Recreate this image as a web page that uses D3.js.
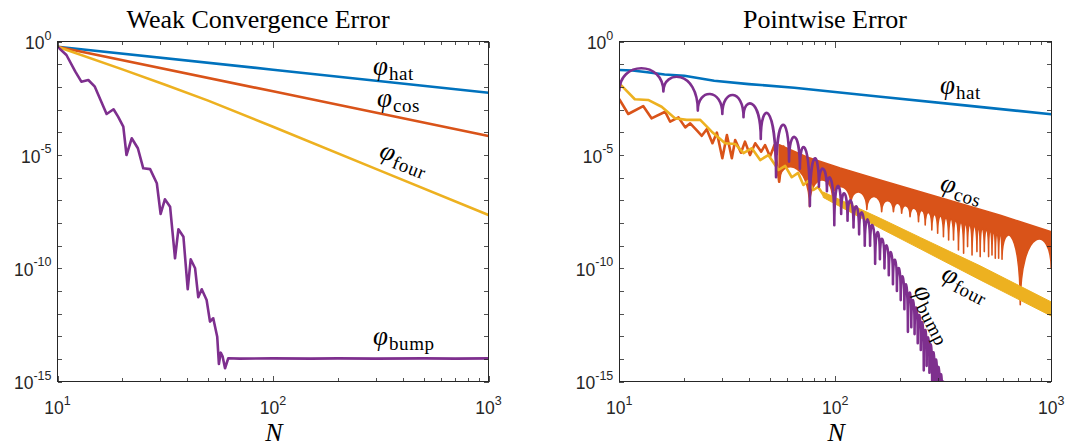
<!DOCTYPE html>
<html>
<head>
<meta charset="utf-8">
<script src="https://cdn.jsdelivr.net/npm/d3@7"></script>
<style>
  body { margin: 0; background: #fff; }
  svg { display: block; }
</style>
</head>
<body>
<svg id="chart" width="1066" height="446"></svg>
<script>
// All error values are stored as log10(error).

// ---- left panel: weak convergence error ----
var weakHatN = [10, 100, 1000];
var weakHatLog = [-0.22, -1.235, -2.25];
var weakCosN = [10, 100, 1000];
var weakCosLog = [-0.22, -2.19, -4.16];
var weakFourN = [10, 20, 31.6, 50, 100, 316, 1000];
var weakFourLog = [-0.22, -1.22, -1.9, -2.6, -3.75, -5.7, -7.645];
var weakBumpN = [10, 11.0, 12.1, 12.9, 13.9, 14.9, 16.9, 18.2, 19.1, 20.2,
  20.9, 22.1, 23.6, 25.0, 26.9, 28.9, 30.1, 31.5, 33.3, 35.1,
  36.4, 38.4, 40.2, 41.5, 43.5, 45.0, 46.7, 49.2, 51.0, 52.8,
  55.1, 56.1, 57.2, 58.4, 59.9, 62.0, 70, 100, 150, 200, 300, 500, 700, 1000];
var weakBumpLog = [-0.22, -0.587, -1.323, -1.764, -1.689, -1.985, -3.189, -2.982, -3.308, -3.749,
  -4.998, -4.261, -4.702, -5.585, -5.62, -6.246, -7.6, -6.952, -7.278, -9.554,
  -8.275, -8.602, -10.922, -9.598, -9.996, -11.275, -10.922, -11.394, -12.351, -12.201,
  -13.013, -14.217, -13.719, -13.895, -14.407, -13.966, -13.98, -13.97, -13.98, -13.97, -13.98, -13.97, -13.98, -13.97];

// ---- right panel: pointwise error ----
var ptHatN = [10, 11.5, 13.5, 16.2, 20, 27.5, 39.8, 64.6, 158, 398, 1000];
var ptHatLog = [-1.25, -1.27, -1.35, -1.45, -1.50, -1.72, -1.87, -2.03, -2.42, -2.81, -3.2];

// cos: wiggly start, then a dense band (top edge + spikes with arches between)
var ptCosN = [10, 11.0, 12.9, 14.1, 16.3, 17.2, 18.8, 20.2, 21.3, 22.8, 24.1, 25.4, 27.0, 28.3,
  30.0, 31.5, 33.2, 34.4, 36.6, 38.2, 40.3, 42.6, 45.4, 47.3, 49.9, 52.3, 55.0, 57.5];
var ptCosLog = [-2.54, -3.19, -2.84, -3.38, -3.09, -3.53, -3.34, -3.78, -3.6, -3.9, -4.15, -3.86, -4.48, -4.01,
  -5.14, -4.12, -5.14, -4.34, -4.9, -4.41, -5.0, -4.48, -4.85, -4.56, -5.07, -4.56, -6.18, -4.63];
var ptCosTopN = [55, 73.9, 105.4, 161.5, 247.5, 581, 1000];
var ptCosTopLog = [-4.55, -5.086, -5.571, -6.1, -6.62, -7.66, -8.38];
var ptCosSpikeN = [55, 76, 97, 118, 140, 164, 186, 203, 222, 243, 261, 280, 298, 317, 335,
  353, 372, 393, 410, 430, 453, 469, 490, 513, 532, 551, 571, 592, 719, 1000];
var ptCosSpikeLog = [-6.18, -7.28, -6.9, -7.2, -7.4, -7.5, -7.5, -7.57, -7.72, -7.94, -8.09, -8.31, -8.45, -8.6, -8.75,
  -8.75, -9.19, -9.33, -9.04, -9.41, -9.26, -9.48, -9.26, -9.48, -9.41, -9.55, -9.55, -9.6, -11.6, -10.0];
var ptCosArchLog = [-5.55, -6.1, -6.4, -6.63, -6.83, -7.01, -7.13, -7.24, -7.35, -7.45, -7.54, -7.62, -7.69, -7.77,
  -7.83, -7.89, -7.96, -8.02, -8.07, -8.13, -8.19, -8.23, -8.29, -8.34, -8.38, -8.43, -8.47, -8.6, -8.75];

// four: wiggly start, then a thick band
var ptFourN = [10, 11.8, 13.6, 15.7, 18.1, 20.5, 23.7, 26.8, 30.9, 34.4, 37.6, 41.1,
  44.9, 49.0, 54.6, 58.6, 62.9, 67.3, 71.2, 74.9, 79.3, 83.3, 88.2];
var ptFourLog = [-1.835, -2.54, -2.57, -2.87, -3.38, -3.45, -3.45, -3.97, -4.48, -4.51, -4.92, -4.70,
  -5.22, -5.0, -5.66, -5.48, -5.98, -5.79, -6.32, -6.14, -6.54, -6.41, -6.76];
var ptFourBandN = [87.9, 161.5, 247.5, 469, 1000];
var ptFourBandHiLog = [-6.63, -7.79, -8.635, -9.89, -11.48];
var ptFourBandLoLog = [-6.87, -8.23, -9.14, -10.51, -12.1];

// bump: arches between dips
var ptBumpDipN = [10, 16.0, 23.1, 30.0, 37.6, 45.2, 53.2, 61.1, 68.6, 76.3, 84, 91.5, 99, 106.5,
  114, 121.5, 129, 137, 145, 153, 161, 169, 177, 185, 193, 201, 209, 217, 225, 233, 241, 249,
  257, 265, 273, 281, 289, 297, 305, 313, 321, 329];
var ptBumpDipLog = [-2.2, -2.2, -3.04, -3.19, -3.33, -4.29, -5.98, -5.29, -5.6, -7.25, -6.4, -6.6, -8.1, -7.6,
  -7.9, -8.2, -8.5, -9.0, -9.0, -9.8, -9.6, -10.0, -10.3, -10.7, -11.0, -11.4, -11.8, -12.8, -12.6, -12.9,
  -13.3, -13.6, -14.5, -14.3, -14.6, -15.2, -15.5, -15.8, -16.1, -16.4, -16.7, -17];
var ptBumpPeakLog = [-1.17, -1.57, -2.31, -2.35, -2.75, -3.19, -3.67, -4.2, -4.70, -5.16, -5.60, -6.05, -6.37,
  -6.69, -7.0, -7.27, -7.54, -7.83, -8.11, -8.40, -8.70, -8.99, -9.29, -9.62, -9.99, -10.36, -10.73,
  -11.07, -11.40, -11.73, -12.06, -12.39, -12.72, -13.05, -13.37, -13.70, -14.02, -14.35, -14.67, -15.0, -15.3];

// ticks
var yLabelExps = [0, -5, -10, -15];
var xLabelExps = [1, 2, 3];

var COLORS = { hat: '#0072BD', cos: '#D95319', four: '#EDB120', bump: '#7E2F8E' };
var TOP = 41.7, BOTTOM = 381.7;
var LW = 2.6;

var svg = d3.select('#chart');

/**
 * Build one axes box: scales, clip path, frame, ticks and labels.
 */
function makePanel(id, left, right, title, titleX) {
  var x = d3.scaleLog().domain([10, 1000]).range([left, right]);
  var y = d3.scaleLog().domain([1e-15, 1]).range([BOTTOM, TOP]);
  var g = svg.append('g');

  svg.append('clipPath').attr('id', 'clip' + id)
    .append('rect')
    .attr('x', left).attr('y', TOP)
    .attr('width', right - left).attr('height', BOTTOM - TOP);

  var plot = g.append('g').attr('clip-path', 'url(#clip' + id + ')');

  // minor x ticks 2..9 per decade, y ticks every decade
  var xMinor = [];
  [10, 100].forEach(function(d) {
    for (var k = 2; k <= 9; k++) xMinor.push(k * d);
  });
  var xMajor = [10, 100, 1000];
  var yTicks = d3.range(0, 16).map(function(k) { return Math.pow(10, -k); });

  function tickAxis(axis, tx, ty) {
    g.append('g')
      .attr('transform', 'translate(' + tx + ',' + ty + ')')
      .call(axis.tickFormat(''))
      .call(function(s) {
        s.select('.domain').remove();
        s.selectAll('line').attr('stroke', '#262626').attr('stroke-width', 0.8);
      })
      .attr('shape-rendering', 'crispEdges');
  }
  tickAxis(d3.axisBottom(x).tickValues(xMinor).tickSize(-3.5), 0, BOTTOM);
  tickAxis(d3.axisBottom(x).tickValues(xMajor).tickSize(-6), 0, BOTTOM);
  tickAxis(d3.axisTop(x).tickValues(xMinor).tickSize(-3.5), 0, TOP);
  tickAxis(d3.axisTop(x).tickValues(xMajor).tickSize(-6), 0, TOP);
  tickAxis(d3.axisLeft(y).tickValues(yTicks).tickSize(-4.5), left, 0);
  tickAxis(d3.axisRight(y).tickValues(yTicks).tickSize(-4.5), right, 0);

  g.append('rect')
    .attr('x', left).attr('y', TOP)
    .attr('width', right - left).attr('height', BOTTOM - TOP)
    .attr('fill', 'none')
    .attr('stroke', '#262626')
    .attr('stroke-width', 1)
    .attr('shape-rendering', 'crispEdges');

  // y tick labels 10^k
  yLabelExps.forEach(function(e) {
    var t = g.append('text')
      .attr('x', left - 6)
      .attr('y', y(Math.pow(10, e)) + 7.5)
      .attr('text-anchor', 'end')
      .attr('font-family', 'Liberation Sans, Arial, Helvetica, sans-serif')
      .attr('font-size', 17.5)
      .attr('fill', '#262626');
    t.append('tspan').text('10');
    t.append('tspan').attr('dy', -9.5).attr('font-size', 12.5).text(String(e));
  });

  // x tick labels 10^k
  xLabelExps.forEach(function(e) {
    var t = g.append('text')
      .attr('x', x(Math.pow(10, e)))
      .attr('y', 414)
      .attr('text-anchor', 'middle')
      .attr('font-family', 'Liberation Sans, Arial, Helvetica, sans-serif')
      .attr('font-size', 17.5)
      .attr('fill', '#262626');
    t.append('tspan').text('10');
    t.append('tspan').attr('dy', -9.5).attr('font-size', 12.5).text(String(e));
  });

  g.append('text')
    .attr('x', titleX).attr('y', 28)
    .attr('text-anchor', 'middle')
    .attr('font-family', 'Liberation Serif, Times New Roman, serif')
    .attr('font-size', 26)
    .attr('fill', '#000')
    .text(title);

  g.append('text')
    .attr('x', (left + right) / 2 + 1).attr('y', 441)
    .attr('text-anchor', 'middle')
    .attr('font-family', 'Liberation Serif, Times New Roman, serif')
    .attr('font-style', 'italic')
    .attr('font-size', 26)
    .attr('fill', '#000')
    .text('N');

  return { g: g, plot: plot, x: x, y: y };
}

function pts(p, Ns, logs) {
  return Ns.map(function(n, i) { return [p.x(n), p.y(Math.pow(10, logs[i]))]; });
}

var line = d3.line();

function drawLine(p, Ns, logs, color) {
  p.plot.append('path')
    .attr('d', line(pts(p, Ns, logs)))
    .attr('fill', 'none')
    .attr('stroke', color)
    .attr('stroke-width', LW)
    .attr('stroke-linejoin', 'round')
    .attr('stroke-linecap', 'round');
}

/**
 * Append arches between dips to a d3.path. Each arch is a cubic that
 * leaves the dip vertically and tops out at the given peak height.
 */
function addArches(path, dips, peaks, reverse) {
  var n = dips.length;
  if (!reverse) {
    for (var i = 0; i < n - 1; i++) {
      var yh = (peaks[i] - (dips[i][1] + dips[i + 1][1]) / 8) / 0.75;
      path.bezierCurveTo(dips[i][0], yh, dips[i + 1][0], yh, dips[i + 1][0], dips[i + 1][1]);
    }
  } else {
    for (var j = n - 1; j > 0; j--) {
      var yh2 = (peaks[j - 1] - (dips[j][1] + dips[j - 1][1]) / 8) / 0.75;
      path.bezierCurveTo(dips[j][0], yh2, dips[j - 1][0], yh2, dips[j - 1][0], dips[j - 1][1]);
    }
  }
}

function label(p, sub, x, y, angle) {
  var t = p.g.append('text')
    .attr('transform', 'translate(' + x + ',' + y + ') rotate(' + angle + ')')
    .attr('fill', '#000');
  t.append('tspan')
    .attr('font-family', 'Liberation Serif, Times New Roman, serif')
    .attr('font-style', 'italic')
    .attr('font-size', 27)
    .text('\u03C6');
  t.append('tspan')
    .attr('dy', 5)
    .attr('dx', 1)
    .attr('font-family', 'Liberation Serif, Times New Roman, serif')
    .attr('font-size', 19)
    .attr('letter-spacing', 0.6)
    .text(sub);
}

// ---------------- left panel ----------------
var L = makePanel('L', 57.5, 488.5, 'Weak Convergence Error', 258);
drawLine(L, weakHatN, weakHatLog, COLORS.hat);
drawLine(L, weakCosN, weakCosLog, COLORS.cos);
drawLine(L, weakFourN, weakFourLog, COLORS.four);
drawLine(L, weakBumpN, weakBumpLog, COLORS.bump);

label(L, 'hat', 373, 75, 0);
label(L, 'cos', 377, 107, 0);
label(L, 'four', 378, 157, 21);
label(L, 'bump', 373, 345, 0);

// ---------------- right panel ----------------
var R = makePanel('R', 619.3, 1051.2, 'Pointwise Error', 825);
drawLine(R, ptHatN, ptHatLog, COLORS.hat);

// cos
drawLine(R, ptCosN, ptCosLog, COLORS.cos);
(function() {
  var top = pts(R, ptCosTopN, ptCosTopLog);
  var dips = pts(R, ptCosSpikeN, ptCosSpikeLog);
  var peaks = ptCosArchLog.map(function(v) { return R.y(Math.pow(10, v)); });
  var p = d3.path();
  p.moveTo(top[0][0], top[0][1]);
  top.slice(1).forEach(function(q) { p.lineTo(q[0], q[1]); });
  p.lineTo(dips[dips.length - 1][0], dips[dips.length - 1][1]);
  addArches(p, dips, peaks, true);
  p.closePath();
  R.plot.append('path')
    .attr('d', p.toString())
    .attr('fill', COLORS.cos)
    .attr('stroke', COLORS.cos)
    .attr('stroke-width', 1.6)
    .attr('stroke-linejoin', 'round');
})();

// four
drawLine(R, ptFourN, ptFourLog, COLORS.four);
(function() {
  var area = d3.area()
    .x(function(d, i) { return R.x(ptFourBandN[i]); })
    .y0(function(d, i) { return R.y(Math.pow(10, ptFourBandLoLog[i])); })
    .y1(function(d, i) { return R.y(Math.pow(10, ptFourBandHiLog[i])); });
  R.plot.append('path')
    .attr('d', area(ptFourBandN))
    .attr('fill', COLORS.four)
    .attr('stroke', COLORS.four)
    .attr('stroke-width', 1);
})();

// bump
(function() {
  var dips = pts(R, ptBumpDipN, ptBumpDipLog);
  var peaks = ptBumpPeakLog.map(function(v) { return R.y(Math.pow(10, v)); });
  var p = d3.path();
  p.moveTo(dips[0][0], dips[0][1]);
  addArches(p, dips, peaks, false);
  R.plot.append('path')
    .attr('d', p.toString())
    .attr('fill', 'none')
    .attr('stroke', COLORS.bump)
    .attr('stroke-width', LW)
    .attr('stroke-linejoin', 'round');
})();

label(R, 'hat', 940, 94, 0);
label(R, 'cos', 939, 190, 17);
label(R, 'four', 940, 279, 27);
label(R, 'bump', 913, 290, 63);
</script>
</body>
</html>
